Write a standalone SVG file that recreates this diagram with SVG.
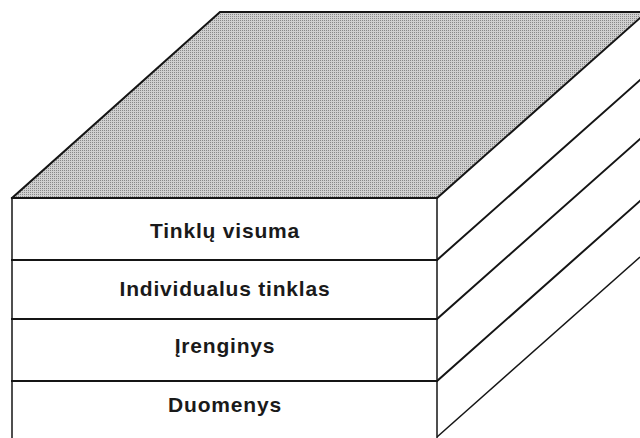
<svg xmlns="http://www.w3.org/2000/svg" width="640" height="438" viewBox="0 0 640 438">
<style>
.edge{stroke:#151515;stroke-width:2;fill:none;stroke-linecap:square}
.thin{stroke:#151515;stroke-width:1.5;fill:none}
.face{fill:#ffffff;stroke:none}
.lbl{font-family:"Liberation Sans",Arial,sans-serif;font-weight:bold;font-size:21px;letter-spacing:0.8px;fill:#1a1a1a;text-anchor:middle}
</style>
<defs>
<pattern id="dots" width="2" height="2" patternUnits="userSpaceOnUse">
<rect width="2" height="2" fill="#d0d0d0"/>
<rect width="1" height="1" fill="#888888"/>
</pattern>
</defs>
<rect width="640" height="438" fill="#ffffff"/>
<g id="top-face">
<polygon points="12,198 220,12 640,12 640,18 437,198" fill="url(#dots)"/>
<polyline class="edge" points="12,198 220,12 640,12"/>
<line class="edge" x1="437" y1="198" x2="640" y2="18"/>
</g>
<g id="side-face">
<line class="edge" x1="437" y1="260" x2="640" y2="80"/>
<line class="edge" x1="437" y1="319" x2="640" y2="139"/>
<line class="edge" x1="437" y1="381" x2="640" y2="201"/>
<line class="thin" x1="437" y1="437" x2="640" y2="257"/>
</g>
<g id="layer-tinklu-visuma">
<rect class="face" x="12" y="198" width="425" height="62"/>
<text class="lbl" x="225" y="238">Tinklų visuma</text>
</g>
<g id="layer-individualus-tinklas">
<rect class="face" x="12" y="260" width="425" height="59"/>
<text class="lbl" x="225" y="296">Individualus tinklas</text>
</g>
<g id="layer-irenginys">
<rect class="face" x="12" y="319" width="425" height="62"/>
<text class="lbl" x="225" y="353">Įrenginys</text>
</g>
<g id="layer-duomenys">
<rect class="face" x="12" y="381" width="425" height="57"/>
<text class="lbl" x="225" y="412">Duomenys</text>
</g>
<g id="front-edges">
<line class="edge" x1="12" y1="198" x2="437" y2="198"/>
<line class="edge" x1="12" y1="260" x2="437" y2="260"/>
<line class="edge" x1="12" y1="319" x2="437" y2="319"/>
<line class="edge" x1="12" y1="381" x2="437" y2="381"/>
<line class="thin" x1="12" y1="198" x2="12" y2="438"/>
<line class="thin" x1="437" y1="198" x2="437" y2="438"/>
</g>
</svg>
